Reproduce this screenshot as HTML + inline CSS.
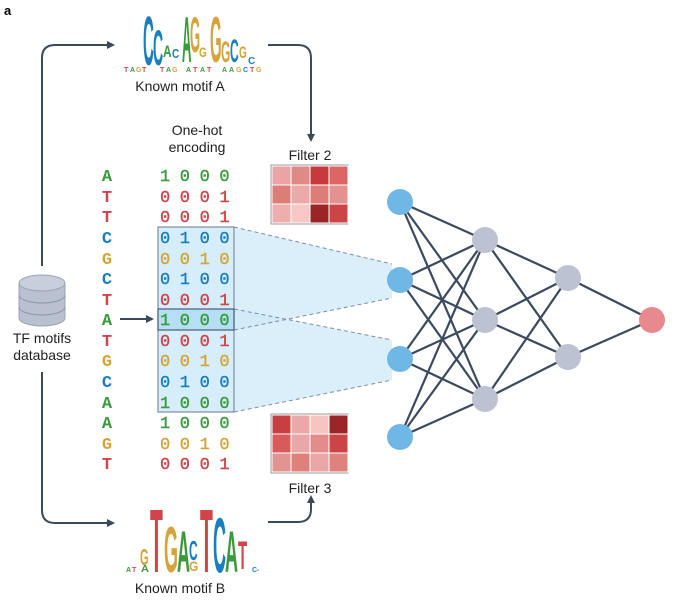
<!DOCTYPE html>
<html><head><meta charset="utf-8"><style>
body{margin:0;background:#fff}
svg{display:block}
</style></head><body>
<svg width="673" height="603" viewBox="0 0 673 603" xmlns="http://www.w3.org/2000/svg">
<defs>
<marker id="ar" markerWidth="8" markerHeight="8" refX="6" refY="4" orient="auto" markerUnits="userSpaceOnUse"><path d="M0,0 L8,4 L0,8 z" fill="#3b4a5a"/></marker>
</defs>
<text x="4" y="15" font-family="Liberation Sans, sans-serif" font-weight="bold" font-size="13" fill="#000">a</text>

<path d="M42,266 V58 Q42,45 55,45 H113" fill="none" stroke="#3b4a5a" stroke-width="2" marker-end="url(#ar)"/>
<path d="M42,372 V510 Q42,523 55,523 H113" fill="none" stroke="#3b4a5a" stroke-width="2" marker-end="url(#ar)"/>
<path d="M268,45 H298 Q311,45 311,58 V140" fill="none" stroke="#3b4a5a" stroke-width="2" marker-end="url(#ar)"/>
<path d="M268,522 H298 Q311,522 311,509 V497" fill="none" stroke="#3b4a5a" stroke-width="2" marker-end="url(#ar)"/>
<path d="M120,319 H152" fill="none" stroke="#3b4a5a" stroke-width="2" marker-end="url(#ar)"/>

<!-- database -->
<g fill="#b9c0cf" stroke="#9aa3b5" stroke-width="1">
<path d="M19,283 V318 A23,8 0 0 0 65,318 V283 Z"/>
<ellipse cx="42" cy="283" rx="23" ry="8" fill="#c8cedb"/>
<path d="M19,295 A23,8 0 0 0 65,295 M19,307 A23,8 0 0 0 65,307" fill="none" stroke="#8d96a9"/>
</g>
<text x="42" y="343" text-anchor="middle" font-family="Liberation Sans, sans-serif" font-size="14" fill="#222">TF motifs</text>
<text x="42" y="360" text-anchor="middle" font-family="Liberation Sans, sans-serif" font-size="14" fill="#222">database</text>

<!-- motif A -->
<g font-family="Liberation Sans, sans-serif" font-weight="bold" font-size="10">
<text transform="translate(143,65) scale(1.5,7)" fill="#1a7fc0">C</text>
<text transform="translate(153,65) scale(1.4,5)" fill="#1a7fc0">C</text>
<text transform="translate(163,57) scale(1.2,1.7)" fill="#3a9a3d">A</text>
<text transform="translate(172,58) scale(1,1.3)" fill="#1a7fc0">C</text>
<text transform="translate(182,62) scale(1.3,6.5)" fill="#3a9a3d">A</text>
<text transform="translate(190,52) scale(1.3,5)" fill="#d4a43a">G</text>
<text transform="translate(199,57) scale(1,1.4)" fill="#d4a43a">G</text>
<text transform="translate(210,62) scale(1.5,6.5)" fill="#d4a43a">G</text>
<text transform="translate(221,62) scale(1.2,3)" fill="#d4a43a">G</text>
<text transform="translate(230,62) scale(1.2,3.2)" fill="#1a7fc0">C</text>
<text transform="translate(239,58) scale(1,1.7)" fill="#d4a43a">G</text>
<text transform="translate(248,64) scale(1,1)" fill="#1a7fc0">C</text>
</g>
<g font-family="Liberation Sans, sans-serif" font-weight="bold" font-size="7">
<text x="124" y="72" fill="#d0454a">T</text><text x="130" y="72" fill="#3a9a3d">A</text><text x="136" y="72" fill="#d4a43a">G</text><text x="142" y="72" fill="#d0454a">T</text>
<text x="160" y="72" fill="#d0454a">T</text><text x="166" y="72" fill="#3a9a3d">A</text><text x="172" y="72" fill="#d4a43a">G</text>
<text x="186" y="72" fill="#3a9a3d">A</text><text x="193" y="72" fill="#d0454a">T</text><text x="200" y="72" fill="#3a9a3d">A</text><text x="207" y="72" fill="#d0454a">T</text>
<text x="222" y="72" fill="#3a9a3d">A</text><text x="229" y="72" fill="#3a9a3d">A</text><text x="236" y="72" fill="#d4a43a">G</text><text x="243" y="72" fill="#1a7fc0">C</text><text x="250" y="72" fill="#d0454a">T</text><text x="256" y="72" fill="#d4a43a">G</text>
</g>
<text x="180" y="91" text-anchor="middle" font-family="Liberation Sans, sans-serif" font-size="14" fill="#222">Known motif A</text>

<!-- motif B -->
<g font-family="Liberation Sans, sans-serif" font-weight="bold" font-size="10">
<text transform="translate(150,572) scale(2.1,9)" fill="#d0454a">T</text>
<text transform="translate(164,572) scale(1.8,6.5)" fill="#d4a43a">G</text>
<text transform="translate(177,572) scale(1.8,5.8)" fill="#3a9a3d">A</text>
<text transform="translate(189,560) scale(1.2,2.8)" fill="#1a7fc0">C</text>
<text transform="translate(189,571) scale(1.2,1.4)" fill="#d4a43a">G</text>
<text transform="translate(200,572) scale(2.1,9)" fill="#d0454a">T</text>
<text transform="translate(213,572) scale(1.8,7.8)" fill="#1a7fc0">C</text>
<text transform="translate(225,572) scale(1.8,5.8)" fill="#3a9a3d">A</text>
<text transform="translate(238,569) scale(1.5,4)" fill="#d0454a">T</text>
<text transform="translate(140,565) scale(1.1,2.3)" fill="#d4a43a">G</text>
<text transform="translate(141,572) scale(1.1,1)" fill="#3a9a3d">A</text>
</g>
<g font-family="Liberation Sans, sans-serif" font-weight="bold" font-size="7">
<text x="126" y="572" fill="#3a9a3d">A</text><text x="132" y="572" fill="#d0454a">T</text>
<text x="252" y="572" fill="#1a7fc0">C</text><text x="257" y="572" fill="#1a7fc0">-</text>
</g>
<text x="180" y="593" text-anchor="middle" font-family="Liberation Sans, sans-serif" font-size="14" fill="#222">Known motif B</text>

<text x="197" y="135" text-anchor="middle" font-family="Liberation Sans, sans-serif" font-size="14" fill="#222">One-hot</text>
<text x="197" y="152" text-anchor="middle" font-family="Liberation Sans, sans-serif" font-size="14" fill="#222">encoding</text>

<polygon points="234,227 392,264 392,298 234,330" fill="#cdeaf8" opacity="0.75"/>
<polygon points="234,309 392,340 392,380 234,412" fill="#cdeaf8" opacity="0.75"/>
<g stroke="#7d8ea3" stroke-width="1" stroke-dasharray="4,3" fill="none">
<line x1="234" y1="227" x2="392" y2="264"/><line x1="234" y1="330" x2="392" y2="298"/>
<line x1="234" y1="309" x2="392" y2="340"/><line x1="234" y1="412" x2="392" y2="380"/>
</g>
<rect x="158" y="227" width="76" height="185" fill="#d6eefb" stroke="#7d8ea3" stroke-width="1.2"/>
<rect x="158" y="309" width="76" height="21" fill="#b4dff6" stroke="#4d5d70" stroke-width="1.2"/>

<g font-family="Liberation Mono, monospace" font-size="17">
<g font-weight="bold" text-anchor="middle">
<text x="107" y="181" fill="#3a9a3d">A</text>
<text x="107" y="202" fill="#d0454a">T</text>
<text x="107" y="222" fill="#d0454a">T</text>
<text x="107" y="243" fill="#1a7fc0">C</text>
<text x="107" y="264" fill="#d4a43a">G</text>
<text x="107" y="284" fill="#1a7fc0">C</text>
<text x="107" y="305" fill="#d0454a">T</text>
<text x="107" y="325" fill="#3a9a3d">A</text>
<text x="107" y="346" fill="#d0454a">T</text>
<text x="107" y="366" fill="#d4a43a">G</text>
<text x="107" y="387" fill="#1a7fc0">C</text>
<text x="107" y="408" fill="#3a9a3d">A</text>
<text x="107" y="428" fill="#3a9a3d">A</text>
<text x="107" y="449" fill="#d4a43a">G</text>
<text x="107" y="469" fill="#d0454a">T</text>
</g>
<g stroke-width="0.4">
<text x="160" y="181" fill="#3a9a3d" stroke="#3a9a3d" letter-spacing="9.6">1000</text>
<text x="160" y="202" fill="#d0454a" stroke="#d0454a" letter-spacing="9.6">0001</text>
<text x="160" y="222" fill="#d0454a" stroke="#d0454a" letter-spacing="9.6">0001</text>
<text x="160" y="243" fill="#1a7fc0" stroke="#1a7fc0" letter-spacing="9.6">0100</text>
<text x="160" y="264" fill="#d4a43a" stroke="#d4a43a" letter-spacing="9.6">0010</text>
<text x="160" y="284" fill="#1a7fc0" stroke="#1a7fc0" letter-spacing="9.6">0100</text>
<text x="160" y="305" fill="#d0454a" stroke="#d0454a" letter-spacing="9.6">0001</text>
<text x="160" y="325" fill="#3a9a3d" stroke="#3a9a3d" letter-spacing="9.6">1000</text>
<text x="160" y="346" fill="#d0454a" stroke="#d0454a" letter-spacing="9.6">0001</text>
<text x="160" y="366" fill="#d4a43a" stroke="#d4a43a" letter-spacing="9.6">0010</text>
<text x="160" y="387" fill="#1a7fc0" stroke="#1a7fc0" letter-spacing="9.6">0100</text>
<text x="160" y="408" fill="#3a9a3d" stroke="#3a9a3d" letter-spacing="9.6">1000</text>
<text x="160" y="428" fill="#3a9a3d" stroke="#3a9a3d" letter-spacing="9.6">1000</text>
<text x="160" y="449" fill="#d4a43a" stroke="#d4a43a" letter-spacing="9.6">0010</text>
<text x="160" y="469" fill="#d0454a" stroke="#d0454a" letter-spacing="9.6">0001</text>
</g>
</g>

<text x="310" y="160" text-anchor="middle" font-family="Liberation Sans, sans-serif" font-size="14" fill="#222">Filter 2</text>
<g stroke="#fff" stroke-width="1">
<rect x="271" y="165" width="77" height="59" fill="#888" stroke="#999"/>
<rect x="272" y="166" width="19" height="19" fill="#eaa4a6"/><rect x="291" y="166" width="19" height="19" fill="#e08a86"/><rect x="310" y="166" width="19" height="19" fill="#c8393b"/><rect x="329" y="166" width="19" height="19" fill="#dc6663"/>
<rect x="272" y="185" width="19" height="19" fill="#dc7d78"/><rect x="291" y="185" width="19" height="19" fill="#eba9aa"/><rect x="310" y="185" width="19" height="19" fill="#de7d78"/><rect x="329" y="185" width="19" height="19" fill="#e49290"/>
<rect x="272" y="204" width="19" height="19" fill="#eeaeae"/><rect x="291" y="204" width="19" height="19" fill="#f7c6c5"/><rect x="310" y="204" width="19" height="19" fill="#9b2424"/><rect x="329" y="204" width="19" height="19" fill="#cc4446"/>
</g>
<text x="310" y="493" text-anchor="middle" font-family="Liberation Sans, sans-serif" font-size="14" fill="#222">Filter 3</text>
<g stroke="#fff" stroke-width="1">
<rect x="271" y="414" width="77" height="59" fill="#888" stroke="#999"/>
<rect x="272" y="415" width="19" height="19" fill="#c83f41"/><rect x="291" y="415" width="19" height="19" fill="#eca8a8"/><rect x="310" y="415" width="19" height="19" fill="#f6c5c3"/><rect x="329" y="415" width="19" height="19" fill="#9a2628"/>
<rect x="272" y="434" width="19" height="19" fill="#d85b5a"/><rect x="291" y="434" width="19" height="19" fill="#eba7a7"/><rect x="310" y="434" width="19" height="19" fill="#e48c89"/><rect x="329" y="434" width="19" height="19" fill="#cd4446"/>
<rect x="272" y="453" width="19" height="19" fill="#e29490"/><rect x="291" y="453" width="19" height="19" fill="#df807c"/><rect x="310" y="453" width="19" height="19" fill="#eaa6a6"/><rect x="329" y="453" width="19" height="19" fill="#df827d"/>
</g>

<g stroke="#3b4a5e" stroke-width="2.2">
<line x1="400" y1="202" x2="485" y2="240"/><line x1="400" y1="202" x2="485" y2="320"/><line x1="400" y1="202" x2="485" y2="399"/>
<line x1="400" y1="280" x2="485" y2="240"/><line x1="400" y1="280" x2="485" y2="320"/><line x1="400" y1="280" x2="485" y2="399"/>
<line x1="400" y1="359" x2="485" y2="240"/><line x1="400" y1="359" x2="485" y2="320"/><line x1="400" y1="359" x2="485" y2="399"/>
<line x1="400" y1="437" x2="485" y2="240"/><line x1="400" y1="437" x2="485" y2="320"/><line x1="400" y1="437" x2="485" y2="399"/>
<line x1="485" y1="240" x2="568" y2="278"/><line x1="485" y1="240" x2="568" y2="357"/>
<line x1="485" y1="320" x2="568" y2="278"/><line x1="485" y1="320" x2="568" y2="357"/>
<line x1="485" y1="399" x2="568" y2="278"/><line x1="485" y1="399" x2="568" y2="357"/>
<line x1="568" y1="278" x2="652" y2="320"/><line x1="568" y1="357" x2="652" y2="320"/>
</g>
<g>
<circle cx="400" cy="202" r="13" fill="#6fb8e6"/><circle cx="400" cy="280" r="13" fill="#6fb8e6"/><circle cx="400" cy="359" r="13" fill="#6fb8e6"/><circle cx="400" cy="437" r="13" fill="#6fb8e6"/>
<circle cx="485" cy="240" r="13" fill="#bcc2d2"/><circle cx="485" cy="320" r="13" fill="#bcc2d2"/><circle cx="485" cy="399" r="13" fill="#bcc2d2"/>
<circle cx="568" cy="278" r="13" fill="#bcc2d2"/><circle cx="568" cy="357" r="13" fill="#bcc2d2"/>
<circle cx="652" cy="320" r="13" fill="#e88a8d"/>
</g>
</svg>
</body></html>
